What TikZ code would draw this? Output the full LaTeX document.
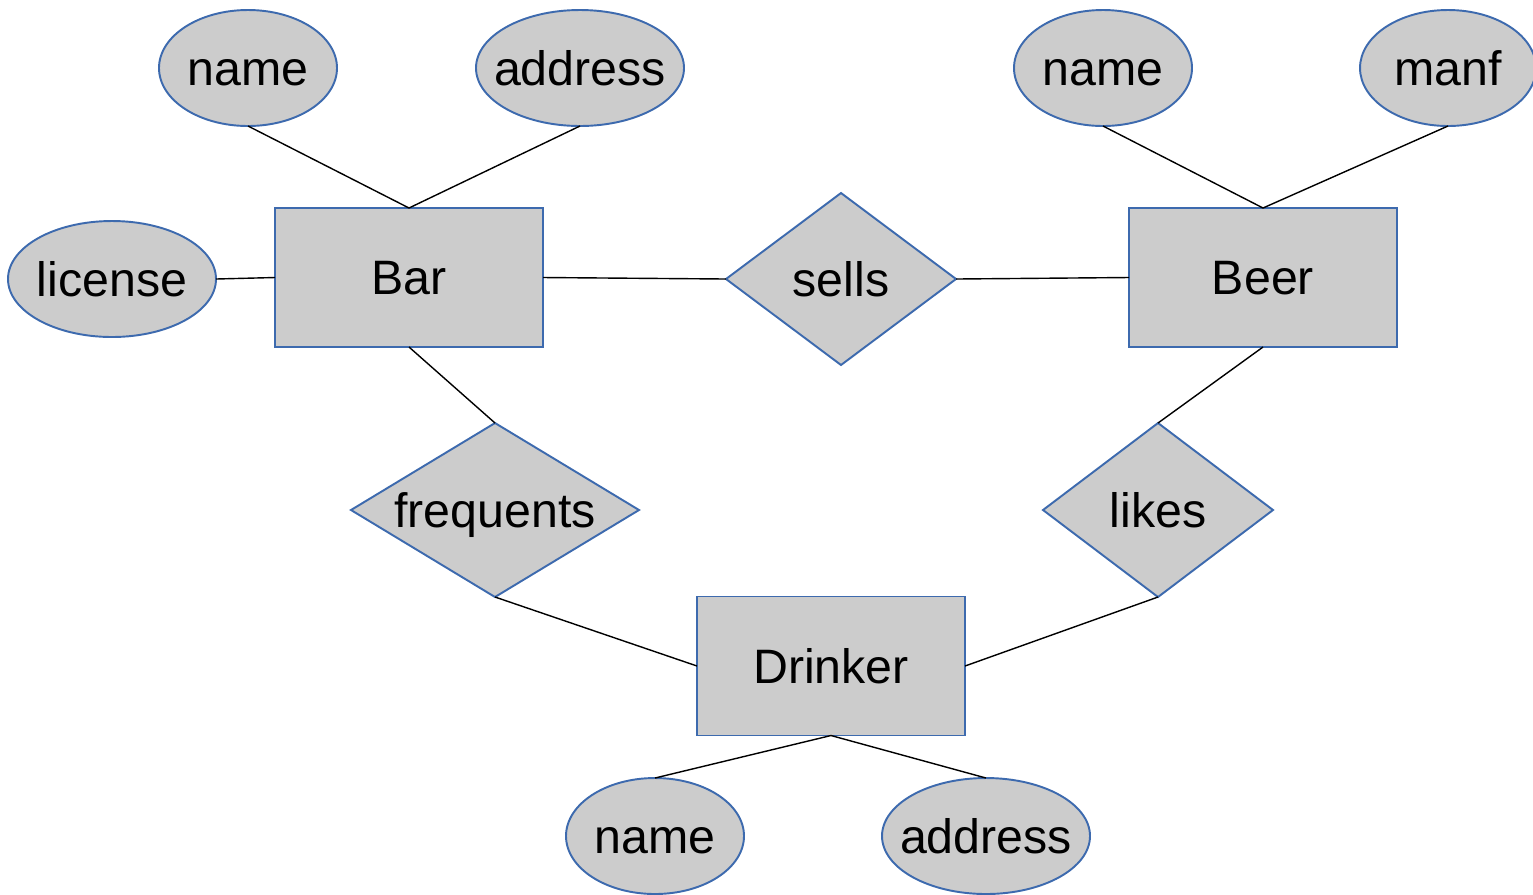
\documentclass[tikz,border=0pt]{standalone}
\usepackage{fontspec}
\setmainfont{Liberation Sans}
\usetikzlibrary{shapes.geometric}
\definecolor{erfill}{HTML}{CCCCCC}
\definecolor{erstroke}{HTML}{3D6AAE}
\begin{document}
\begin{tikzpicture}[x=0.02cm,y=-0.02cm,
  every node/.style={inner sep=0pt, outer sep=0pt},
  lbl/.style={font=\fontsize{27.5}{30}\selectfont, text height=19.8pt, text depth=0pt},
  entity/.style={draw=erstroke, fill=erfill, line width=1.1pt, rectangle, minimum width=268*0.02cm, minimum height=139*0.02cm},
  attr/.style={draw=erstroke, fill=erfill, line width=1.1pt, ellipse, minimum height=116*0.02cm},
  rel/.style={draw=erstroke, fill=erfill, line width=1.1pt, diamond},
  link/.style={black, line width=0.8pt}]
\useasboundingbox (0,0) rectangle (1533,894);
\begin{scope}
\clip (0,0) rectangle (1533,894);
% entities
\node[entity] (bar) at (409,277.5) {};
\node[entity] (beer) at (1263,277.5) {};
\node[entity] (drinker) at (831,666) {};
% attributes
\node[attr, minimum width=178*0.02cm] (barname) at (248,68) {};
\node[attr, minimum width=208*0.02cm] (baraddr) at (580,68) {};
\node[attr, minimum width=208*0.02cm] (license) at (112,279) {};
\node[attr, minimum width=178*0.02cm] (beername) at (1103,68) {};
\node[attr, minimum width=176*0.02cm] (manf) at (1448,68) {};
\node[attr, minimum width=178*0.02cm] (drname) at (655,836) {};
\node[attr, minimum width=208*0.02cm] (draddr) at (986,836) {};
% relationships
\node[rel, minimum width=230*0.02cm, minimum height=172*0.02cm, aspect=1.337] (sells) at (841,279) {};
\node[rel, minimum width=288*0.02cm, minimum height=174*0.02cm, aspect=1.655] (freq) at (495,510) {};
\node[rel, minimum width=230*0.02cm, minimum height=174*0.02cm, aspect=1.322] (likes) at (1158,510) {};
% labels
\node[lbl] (tbar) at (bar) {Bar};
\node[lbl] (tbeer) at (beer) {Beer};
\node[lbl] (tdrinker) at (drinker) {Drinker};
\node[lbl] (tbarname) at (barname) {name};
\node[lbl] (tbaraddr) at (baraddr) {address};
\node[lbl] (tlicense) at (license) {license};
\node[lbl] (tbeername) at (beername) {name};
\node[lbl] (tmanf) at (manf) {manf};
\node[lbl] (tdrname) at (drname) {name};
\node[lbl] (tdraddr) at (draddr) {address};
\node[lbl] (tsells) at (sells) {sells};
\node[lbl] (tfreq) at (freq) {frequents};
\node[lbl] (tlikes) at (likes) {likes};
% links
\draw[link] (barname.south) -- (bar.north);
\draw[link] (baraddr.south) -- (bar.north);
\draw[link] (license.east) -- (bar.west);
\draw[link] (bar.east) -- (sells.west);
\draw[link] (sells.east) -- (beer.west);
\draw[link] (beername.south) -- (beer.north);
\draw[link] (manf.south) -- (beer.north);
\draw[link] (bar.south) -- (freq.north);
\draw[link] (freq.south) -- (drinker.west);
\draw[link] (likes.north) -- (beer.south);
\draw[link] (likes.south) -- (drinker.east);
\draw[link] (drinker.south) -- (drname.north);
\draw[link] (drinker.south) -- (draddr.north);
\end{scope}
\end{tikzpicture}
\end{document}
